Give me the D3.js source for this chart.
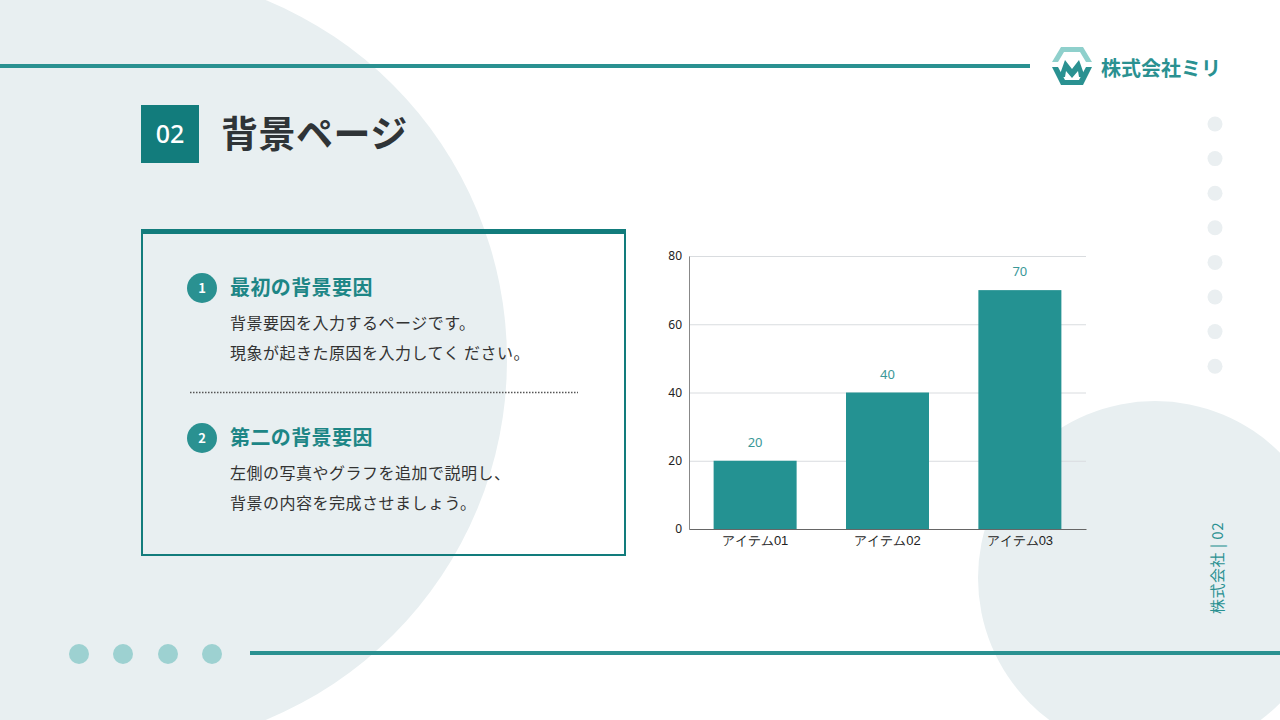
<!DOCTYPE html>
<html><head><meta charset="utf-8">
<script src="https://cdn.jsdelivr.net/npm/d3@7"></script>
<style>
html,body{margin:0;padding:0;background:#fff;}
svg{display:block;font-family:"Noto Sans CJK JP","Noto Sans",sans-serif;}
</style></head>
<body>
<svg id="c" width="1280" height="720"></svg>
<script>
const categories = ["アイテム01", "アイテム02", "アイテム03"];
const values = [20, 40, 70];
const yTicks = [0, 20, 40, 60, 80];
const pageNum = "02";
const pageTitle = "背景ページ";
const company = "株式会社ミリ";
const items = [
  {num: "1", head: "最初の背景要因", lines: ["背景要因を入力するページです。", "現象が起きた原因を入力してく ださい。"]},
  {num: "2", head: "第二の背景要因", lines: ["左側の写真やグラフを追加で説明し、", "背景の内容を完成させましょう。"]}
];

const svg = d3.select("#c");
const teal = "#2a9191", dark = "#127c7c", bgc = "#e8eff1";

// background shapes
svg.append("circle").attr("cx",118).attr("cy",360).attr("r",389).attr("fill",bgc);
svg.append("circle").attr("cx",1155).attr("cy",578).attr("r",177).attr("fill",bgc);

// lines
svg.append("rect").attr("x",0).attr("y",64).attr("width",1030).attr("height",4).attr("fill",teal);
svg.append("rect").attr("x",250).attr("y",651).attr("width",1030).attr("height",4).attr("fill",teal);

// logo
const lg = svg.append("g");
lg.append("path").attr("d","M1061,47 L1083,47 L1092,62 L1086,62 L1080,52 L1064,52 L1058,62 L1052,62 Z").attr("fill","#8fd0cc");
lg.append("path").attr("d","M1052,67 L1058,67 L1065,80 L1079,80 L1086,67 L1092,67 L1083,85 L1061,85 Z").attr("fill",teal);
lg.append("path").attr("d","M1059,77 L1065,60 L1072,69 L1079,60 L1085,77 L1079,77 L1078,71 L1072,78 L1066,71 L1065,77 Z").attr("fill",teal);
svg.append("text").attr("x",1101).attr("y",76).attr("font-size",20).attr("font-weight",700)
  .attr("fill",teal).text(company);

// right dots
d3.range(8).forEach(i=>{
  svg.append("circle").attr("cx",1215).attr("cy",124+i*34.6).attr("r",7.5).attr("fill","#eaeff1");
});
// bottom-left dots
[79,123,168,212].forEach(x=>{
  svg.append("circle").attr("cx",x).attr("cy",654).attr("r",10).attr("fill","#9dd1d1");
});

// vertical text
svg.append("text").attr("transform","translate(1223,568) rotate(-90)").attr("text-anchor","middle")
  .attr("font-size",15).attr("letter-spacing",0.5).attr("fill",teal).text("株式会社 | "+pageNum);

// title
svg.append("rect").attr("x",141).attr("y",105).attr("width",58).attr("height",58).attr("fill",dark);
svg.append("text").attr("x",170).attr("y",143).attr("text-anchor","middle").attr("font-size",25)
  .attr("font-weight",500).attr("fill","#fff").attr("font-family","'Noto Sans','Noto Sans CJK JP',sans-serif").text(pageNum);
svg.append("text").attr("x",221).attr("y",148).attr("font-size",37).attr("font-weight",700)
  .attr("letter-spacing",0.5).attr("fill","#2f3437").text(pageTitle);

// card
svg.append("rect").attr("x",142).attr("y",231).attr("width",483).attr("height",324)
  .attr("fill","none").attr("stroke",dark).attr("stroke-width",2);
svg.append("rect").attr("x",141).attr("y",229).attr("width",485).attr("height",5).attr("fill",dark);

items.forEach((it,k)=>{
  const y0 = 288 + k*150;
  svg.append("circle").attr("cx",202).attr("cy",y0).attr("r",15).attr("fill",teal);
  svg.append("text").attr("x",202).attr("y",y0+5).attr("text-anchor","middle").attr("font-size",13)
    .attr("font-weight",700).attr("fill","#fff").text(it.num);
  svg.append("text").attr("x",230).attr("y",y0+7).attr("font-size",20).attr("font-weight",700)
    .attr("letter-spacing",0.4).attr("fill","#1d8686").text(it.head);
  it.lines.forEach((l,j)=>{
    svg.append("text").attr("x",230).attr("y",y0+41+j*30).attr("font-size",16)
      .attr("letter-spacing",0.5).attr("fill","#333").text(l);
  });
});
svg.append("line").attr("x1",190).attr("x2",578).attr("y1",392.5).attr("y2",392.5)
  .attr("stroke","#555").attr("stroke-width",1.5).attr("stroke-dasharray","1.5,1.5");

// chart
const L=689, R=1086, T=256, B=529;
const x = d3.scaleBand().domain(categories).range([L,R]).paddingInner(0.373).paddingOuter(0.186);
const y = d3.scaleLinear().domain([0,80]).range([B,T]);

const g = svg.append("g");
g.selectAll(".grid").data(yTicks.filter(d=>d>0)).join("line")
  .attr("x1",L).attr("x2",R).attr("y1",d=>y(d)+0.5).attr("y2",d=>y(d)+0.5)
  .attr("stroke","#d9dcdf").attr("stroke-width",1);

const ya = g.append("g").attr("transform",`translate(${L},0)`)
  .call(d3.axisLeft(y).tickValues(yTicks).tickSize(0).tickPadding(7));
ya.select(".domain").attr("stroke","#888");
ya.selectAll("text").attr("font-size",12).attr("fill","#222")
  .attr("font-family","'Noto Sans','Noto Sans CJK JP',sans-serif");

g.selectAll(".bar").data(values).join("rect")
  .attr("x",(d,i)=>x(categories[i])).attr("width",x.bandwidth())
  .attr("y",d=>y(d)).attr("height",d=>B-y(d)).attr("fill","#249292");

g.selectAll(".vl").data(values).join("text")
  .attr("x",(d,i)=>x(categories[i])+x.bandwidth()/2).attr("y",d=>y(d)-14)
  .attr("text-anchor","middle").attr("font-size",13).attr("fill","#3a9898")
  .attr("font-family","'Noto Sans','Noto Sans CJK JP',sans-serif").text(d=>d);

const xa = g.append("g").attr("transform",`translate(0,${B})`)
  .call(d3.axisBottom(x).tickSize(0).tickPadding(7));
xa.select(".domain").attr("stroke","#666");
xa.selectAll("text").attr("font-size",13).attr("fill","#222");
</script>
</body></html>
